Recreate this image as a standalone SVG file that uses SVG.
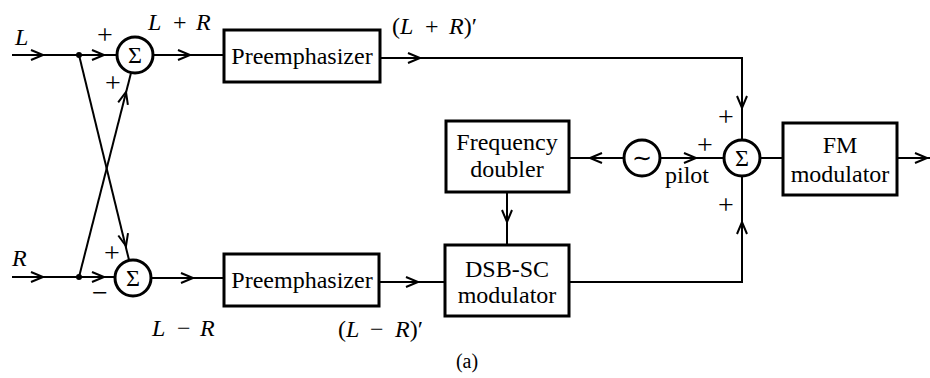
<svg xmlns="http://www.w3.org/2000/svg" xmlns:xlink="http://www.w3.org/1999/xlink" width="930" height="378" viewBox="0 0 930 378">
<style>
text{font-family:"Liberation Serif","Times New Roman",serif;fill:#000}
.lbl{font-size:24px;text-anchor:middle}
.it{font-style:italic}
.box{fill:#fff;stroke:#000;stroke-width:3}
.circ{fill:#fff;stroke:#000;stroke-width:3}
.ln{fill:none;stroke:#000;stroke-width:2}
.ah{fill:none;stroke:#000;stroke-width:2;stroke-linejoin:miter}
.sig{font-size:24px;text-anchor:middle}
.pm{font-size:28px;text-anchor:middle}
</style>
<defs>
<path id="ah" class="ah" d="M-12,-5 L0,0 L-12,5"/>
</defs>
<rect width="930" height="378" fill="#fff"/>
<g id="connectors">
<path class="ln" d="M12,55 H117"/>
<path class="ln" d="M153,55 H224"/>
<path class="ln" d="M380,58 H742 V140"/>
<path class="ln" d="M760,158 H783"/>
<path class="ln" d="M897,158 H930"/>
<path class="ln" d="M624,158 H569"/>
<path class="ln" d="M660,158 H724"/>
<path class="ln" d="M507,192 V245"/>
<path class="ln" d="M569,282 H742 V176"/>
<path class="ln" d="M379,282 H445"/>
<path class="ln" d="M12,277 H115"/>
<path class="ln" d="M151,278 H224"/>
<path class="ln" d="M79,55 L129,260"/>
<path class="ln" d="M79,277 L131,73"/>
<circle cx="79" cy="55" r="3"/>
<circle cx="79" cy="277" r="3"/>
<use xlink:href="#ah" transform="translate(43,55)"/>
<use xlink:href="#ah" transform="translate(104,55)"/>
<use xlink:href="#ah" transform="translate(190,55)"/>
<use xlink:href="#ah" transform="translate(420,58)"/>
<use xlink:href="#ah" transform="translate(742,108) rotate(90)"/>
<use xlink:href="#ah" transform="translate(927,158)"/>
<use xlink:href="#ah" transform="translate(590,158) rotate(180)"/>
<use xlink:href="#ah" transform="translate(696,158)"/>
<use xlink:href="#ah" transform="translate(507,222) rotate(90)"/>
<use xlink:href="#ah" transform="translate(742,222) rotate(-90)"/>
<use xlink:href="#ah" transform="translate(418,282)"/>
<use xlink:href="#ah" transform="translate(43,277)"/>
<use xlink:href="#ah" transform="translate(104,277)"/>
<use xlink:href="#ah" transform="translate(193,278)"/>
<use xlink:href="#ah" transform="translate(126,246) rotate(76.3)"/>
<use xlink:href="#ah" transform="translate(126,92) rotate(-75.7)"/>
</g>
<g id="labels">
<text x="15" y="45" class="it" font-size="24">L</text>
<text x="12" y="266" class="it" font-size="24">R</text>
<text x="105" y="44" class="pm">+</text>
<text x="113" y="92" class="pm">+</text>
<text x="112" y="262" class="pm">+</text>
<text x="100" y="302" class="pm">−</text>
<text x="148" y="30" font-size="24"><tspan class="it">L</tspan><tspan x="173">+</tspan><tspan x="196" class="it">R</tspan></text>
<text x="392" y="34" font-size="24">(<tspan class="it">L</tspan><tspan x="425">+</tspan><tspan x="449" class="it">R</tspan>)′</text>
<text x="152" y="336" font-size="24"><tspan class="it">L</tspan><tspan x="177">−</tspan><tspan x="200" class="it">R</tspan></text>
<text x="338" y="337" font-size="24">(<tspan class="it">L</tspan><tspan x="370">−</tspan><tspan x="395" class="it">R</tspan>)′</text>
<text x="726" y="126" class="pm">+</text>
<text x="705" y="154" class="pm">+</text>
<text x="726" y="214" class="pm">+</text>
<text x="687" y="183" class="lbl">pilot</text>
<text x="467" y="368" font-size="20" text-anchor="middle">(a)</text>
</g>
<g id="sum-top">
<circle class="circ" cx="135" cy="55" r="18"/>
<text x="135" y="63" class="sig">Σ</text>
</g>
<g id="sum-bottom">
<circle class="circ" cx="133" cy="278" r="18"/>
<text x="133" y="286" class="sig">Σ</text>
</g>
<g id="sum-right">
<circle class="circ" cx="742" cy="158" r="18"/>
<text x="742" y="166" class="sig">Σ</text>
</g>
<g id="pilot-osc">
<circle class="circ" cx="642" cy="158" r="18"/>
<text x="642" y="166" class="lbl">∼</text>
</g>
<g id="preemph-top">
<rect class="box" x="224" y="30" width="156" height="52"/>
<text x="302" y="64" class="lbl">Preemphasizer</text>
</g>
<g id="preemph-bottom">
<rect class="box" x="224" y="254" width="155" height="52"/>
<text x="302" y="288" class="lbl">Preemphasizer</text>
</g>
<g id="freq-doubler">
<rect class="box" x="446" y="121" width="123" height="71"/>
<text x="507" y="150" class="lbl">Frequency</text>
<text x="507" y="177" class="lbl">doubler</text>
</g>
<g id="dsb-sc">
<rect class="box" x="445" y="245" width="124" height="71"/>
<text x="507" y="277" class="lbl">DSB-SC</text>
<text x="507" y="303" class="lbl">modulator</text>
</g>
<g id="fm-mod">
<rect class="box" x="783" y="123" width="114" height="72"/>
<text x="840" y="153" class="lbl">FM</text>
<text x="840" y="182" class="lbl">modulator</text>
</g>
</svg>
